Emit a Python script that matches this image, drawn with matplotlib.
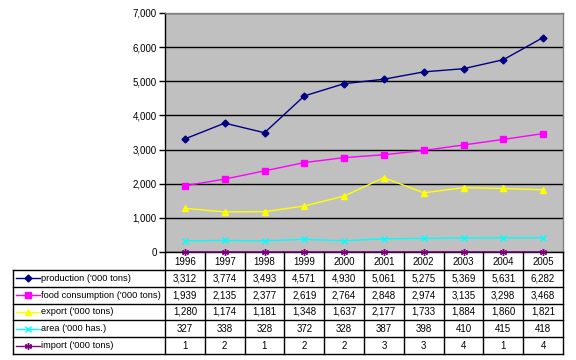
import matplotlib
matplotlib.use('Agg')
import matplotlib.pyplot as plt

plt.rcParams['font.family'] = ['Liberation Sans', 'DejaVu Sans']

years = [1996, 1997, 1998, 1999, 2000, 2001, 2002, 2003, 2004, 2005]
production = [3312, 3774, 3493, 4571, 4930, 5061, 5275, 5369, 5631, 6282]
food_consumption = [1939, 2135, 2377, 2619, 2764, 2848, 2974, 3135, 3298, 3468]
export = [1280, 1174, 1181, 1348, 1637, 2177, 1733, 1884, 1860, 1821]
area = [327, 338, 328, 372, 328, 387, 398, 410, 415, 418]
imports = [1, 2, 1, 2, 2, 3, 3, 4, 1, 4]

series_names = ["production ('000 tons)", "food consumption ('000 tons)",
                "export ('000 tons)", "area ('000 has.)", "import ('000 tons)"]
series_values = [production, food_consumption, export, area, imports]
colors = ['#000080', '#FF00FF', '#FFFF00', '#00FFFF', '#800080']
markers = ['D', 's', '^', 'x', (6, 2, 0)]
msizes = [3.5, 4.5, 5, 4, 5]
yticks = [0, 1000, 2000, 3000, 4000, 5000, 6000, 7000]

W, H = 576, 360
fig = plt.figure(figsize=(W / 100, H / 100), dpi=100)
fig.patch.set_facecolor('white')

left, right, top, bottom = 165, 563, 13, 252
ax = fig.add_axes([left / W, 1 - bottom / H, (right - left) / W, (bottom - top) / H])
ax.set_facecolor('#C0C0C0')
xs = list(range(len(years)))
for vals, c, m, s in zip(series_values, colors, markers, msizes):
    ax.plot(xs, vals, color=c, marker=m, ms=s, lw=1, mfc=c, mec=c, mew=1.0,
            clip_on=False, zorder=3)
ax.set_xlim(-0.5, len(years) - 0.5)
ax.set_ylim(0, 7000)
ax.set_yticks(yticks)
ax.set_yticklabels([f'{v:,}' for v in yticks], fontsize=7)
ax.yaxis.grid(True, color='black', lw=1)
ax.set_axisbelow(True)
ax.set_xticks([])
ax.tick_params(axis='y', length=4, width=1, color='black', pad=2)
for s in ['top', 'right']:
    ax.spines[s].set_color('#808080')
    ax.spines[s].set_linewidth(1)
for s in ['left', 'bottom']:
    ax.spines[s].set_color('black')
    ax.spines[s].set_linewidth(1)

# data table
tl, tr, tt, tb = 13, 563, 252, 354
tax = fig.add_axes([tl / W, 1 - tb / H, (tr - tl) / W, (tb - tt) / H])
tax.set_xlim(tl, tr)
tax.set_ylim(tb, tt)
tax.axis('off')
ncol = len(years)
colw = (tr - left) / ncol
header_bottom = 270
rowh = (tb - header_bottom) / len(series_names)
lk = dict(color='black', lw=1, clip_on=False)
for i in range(ncol + 1):
    xx = left + i * colw
    tax.plot([xx, xx], [tt, tb], **lk)
tax.plot([tl, tl], [header_bottom, tb], **lk)
for j in range(len(series_names) + 1):
    yy = header_bottom + j * rowh
    tax.plot([tl, tr], [yy, yy], **lk)
for i, yv in enumerate(years):
    tax.text(left + (i + 0.5) * colw, (tt + header_bottom) / 2 + 1, str(yv),
             ha='center', va='center', fontsize=7)
for j, (name, vals, c, m, s) in enumerate(zip(series_names, series_values, colors, markers, msizes)):
    yc = header_bottom + (j + 0.5) * rowh
    tax.plot([16, 40], [yc, yc], color=c, lw=1)
    tax.plot([28], [yc], color=c, marker=m, ms=s, mfc=c, mec=c, mew=1.0)
    tax.text(41, yc, name, ha='left', va='center', fontsize=6.7)
    for i, v in enumerate(vals):
        tax.text(left + (i + 0.5) * colw, yc, f'{v:,}', ha='center', va='center', fontsize=7)

fig.savefig('out.png', dpi=100, facecolor='white')
